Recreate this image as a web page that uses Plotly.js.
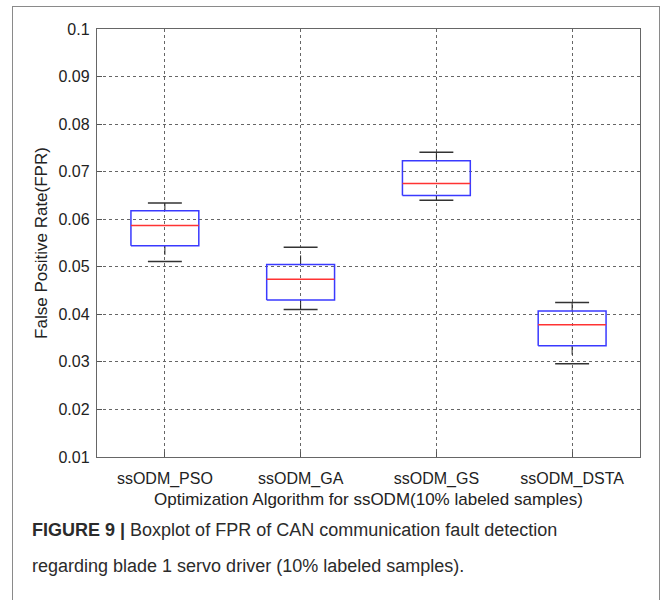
<!DOCTYPE html>
<html>
<head>
<meta charset="utf-8">
<script src="https://cdn.plot.ly/plotly-3.0.1.min.js"></script>
<style>
  html, body { margin: 0; padding: 0; background: #fff; }
  #wrap { position: relative; width: 665px; height: 600px; overflow: hidden; }
  #chart { width: 665px; height: 600px; }
  #frame { position: absolute; left: 12px; top: 6px; width: 648px; height: 620px;
           border: 1.5px solid #8a8a8a; pointer-events: none; box-sizing: border-box; }
</style>
</head>
<body>
<div id="wrap">
  <div id="chart"></div>
  <div id="frame"></div>
</div>
<script>
// ---- data ----
const categories = ["ssODM_PSO", "ssODM_GA", "ssODM_GS", "ssODM_DSTA"];
const upperWhisker = [0.0634, 0.0541, 0.0741, 0.0425];
const q3Values     = [0.0618, 0.0505, 0.0723, 0.0407];
const medianValues = [0.0587, 0.0474, 0.0675, 0.0378];
const q1Values     = [0.0544, 0.0430, 0.0650, 0.0334];
const lowerWhisker = [0.0511, 0.0410, 0.0640, 0.0296];
const yTickValues  = [0.01, 0.02, 0.03, 0.04, 0.05, 0.06, 0.07, 0.08, 0.09, 0.1];
const yTickLabels  = ["0.01", "0.02", "0.03", "0.04", "0.05", "0.06", "0.07", "0.08", "0.09", "0.1"];

// ---- styling constants ----
const BOX_HALF = 0.25;
const CAP_HALF = 0.125;
const FONT = "Liberation Sans, Arial, Helvetica, sans-serif";

const pos = categories.map((_, i) => i + 1);

function rectPaths() {
  const x = [], y = [];
  pos.forEach((p, i) => {
    x.push(p - BOX_HALF, p + BOX_HALF, p + BOX_HALF, p - BOX_HALF, p - BOX_HALF, null);
    y.push(q1Values[i], q1Values[i], q3Values[i], q3Values[i], q1Values[i], null);
  });
  return {x, y};
}
function hLines(vals, half) {
  const x = [], y = [];
  pos.forEach((p, i) => { x.push(p - half, p + half, null); y.push(vals[i], vals[i], null); });
  return {x, y};
}
function whiskerStems() {
  const x = [], y = [];
  pos.forEach((p, i) => {
    x.push(p, p, null, p, p, null);
    y.push(q3Values[i], upperWhisker[i], null, q1Values[i], lowerWhisker[i], null);
  });
  return {x, y};
}

const stems = whiskerStems();
const capsU = hLines(upperWhisker, CAP_HALF);
const capsL = hLines(lowerWhisker, CAP_HALF);
const rects = rectPaths();
const meds = hLines(medianValues, BOX_HALF);

const traces = [
  {x: stems.x, y: stems.y, mode: "lines", line: {color: "#222", width: 1, dash: "dash"}, hoverinfo: "skip"},
  {x: capsU.x, y: capsU.y, mode: "lines", line: {color: "#333", width: 1.5}, hoverinfo: "skip"},
  {x: capsL.x, y: capsL.y, mode: "lines", line: {color: "#333", width: 1.5}, hoverinfo: "skip"},
  {x: rects.x, y: rects.y, mode: "lines", line: {color: "#3a3aff", width: 1.5}, hoverinfo: "skip"},
  {x: meds.x, y: meds.y, mode: "lines", line: {color: "#ff3333", width: 1.5}, hoverinfo: "skip"}
];

const layout = {
  width: 665, height: 600,
  margin: {l: 97, r: 25, t: 29, b: 143},
  paper_bgcolor: "#fff", plot_bgcolor: "#fff",
  showlegend: false,
  font: {family: FONT, color: "#222", size: 16},
  xaxis: {
    range: [0.5, 4.5],
    tickmode: "array", tickvals: pos, ticktext: categories,
    ticks: "inside", ticklen: 5, tickcolor: "#555",
    ticklabelstandoff: 7,
    showgrid: true, gridcolor: "#666", griddash: "dot", gridwidth: 1,
    showline: true, linecolor: "#666", linewidth: 1.2, mirror: true,
    zeroline: false,
    tickfont: {family: FONT, size: 16, color: "#222"},
    title: {text: "Optimization Algorithm for ssODM(10% labeled samples)",
            font: {family: FONT, size: 17, color: "#222"}, standoff: 5}
  },
  yaxis: {
    range: [0.01, 0.1],
    tickmode: "array", tickvals: yTickValues, ticktext: yTickLabels,
    ticks: "inside", ticklen: 5, tickcolor: "#555",
    ticklabelstandoff: 3,
    showgrid: true, gridcolor: "#666", griddash: "dot", gridwidth: 1,
    showline: true, linecolor: "#666", linewidth: 1.2, mirror: true,
    zeroline: false,
    tickfont: {family: FONT, size: 16, color: "#222"},
    title: {text: "False Positive Rate(FPR)",
            font: {family: FONT, size: 17, color: "#222"}, standoff: 6}
  },
  annotations: [
    {xref: "paper", yref: "paper", x: -0.123, y: -0.171, xanchor: "left", yanchor: "middle",
     showarrow: false, align: "left",
     text: "<b>FIGURE 9</b> <b>|</b> Boxplot of FPR of CAN communication fault detection",
     font: {family: FONT, size: 18, color: "#2b2b2b"}},
    {xref: "paper", yref: "paper", x: -0.123, y: -0.255, xanchor: "left", yanchor: "middle",
     showarrow: false, align: "left",
     text: "regarding blade 1 servo driver (10% labeled samples).",
     font: {family: FONT, size: 18, color: "#2b2b2b"}}
  ]
};

Plotly.newPlot("chart", traces, layout, {displayModeBar: false, staticPlot: true});
</script>
</body>
</html>
